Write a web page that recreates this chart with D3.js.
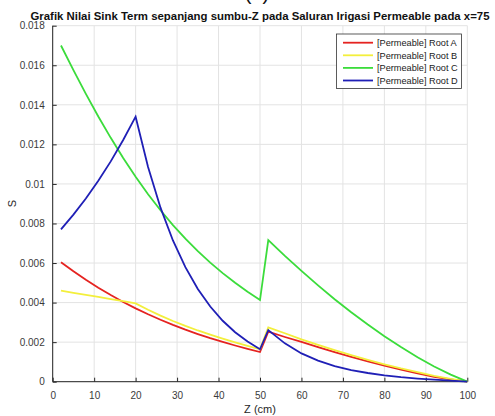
<!DOCTYPE html>
<html>
<head>
<meta charset="utf-8">
<script src="https://cdn.jsdelivr.net/npm/d3@7"></script>
<style>
  html, body { margin: 0; padding: 0; background: #fff; }
  svg { display: block; font-family: "Liberation Sans", Arial, Helvetica, sans-serif; }
</style>
</head>
<body>
<svg id="chart" width="495" height="416"></svg>
<script>
// Depth along the channel (cm)
const zValues = [2, 5, 8, 11, 14, 17, 20, 23, 26, 29, 32, 35, 38, 41, 44, 47, 50,
                 52, 56, 60, 64, 68, 72, 76, 80, 84, 88, 92, 96, 100];

// Sink term S for each root
const rootA = [0.00604, 0.00558, 0.00515, 0.00475, 0.00438, 0.00403, 0.00371, 0.00341, 0.00313,
               0.00287, 0.00263, 0.00241, 0.0022, 0.00201, 0.00183, 0.00166, 0.0015,
               0.00253, 0.00226, 0.00201, 0.00175, 0.0015, 0.00126, 0.00103, 0.00081,
               0.00061, 0.00042, 0.00025, 0.00012, 0];
const rootB = [0.0046, 0.00449, 0.00439, 0.00429, 0.00418, 0.00407, 0.00396, 0.00364, 0.00334,
               0.00307, 0.00282, 0.00259, 0.00238, 0.00218, 0.00199, 0.00181, 0.00164,
               0.00275, 0.00245, 0.00214, 0.00186, 0.0016, 0.00134, 0.0011, 0.00088,
               0.00067, 0.00048, 0.0003, 0.00014, 0];
const rootC = [0.0170, 0.01575, 0.01455, 0.01341, 0.01233, 0.01131, 0.01036, 0.00948, 0.00867,
               0.00792, 0.00723, 0.0066, 0.00602, 0.00549, 0.0050, 0.00455, 0.00413,
               0.00716, 0.00636, 0.0056, 0.00487, 0.00417, 0.00351, 0.00289, 0.0023,
               0.00175, 0.00124, 0.00077, 0.00036, 0];
const rootD = [0.0077, 0.00845, 0.00926, 0.01016, 0.01114, 0.01222, 0.0134, 0.01086, 0.0088,
               0.00714, 0.00579, 0.00469, 0.0038, 0.00308, 0.0025, 0.00203, 0.00164,
               0.00261, 0.00194, 0.00143, 0.00107, 0.00079, 0.00059, 0.00044, 0.00032,
               0.00023, 0.00016, 0.0001, 0.00005, 0];

const seriesNames = ["[Permeable] Root A", "[Permeable] Root B", "[Permeable] Root C", "[Permeable] Root D"];
const seriesColors = ["#e52320", "#f3ef3c", "#3bdc3b", "#1f1fb6"];
const seriesValues = [rootA, rootB, rootC, rootD];

const xTicks = [0, 10, 20, 30, 40, 50, 60, 70, 80, 90, 100];
const yTicks = [0, 0.002, 0.004, 0.006, 0.008, 0.01, 0.012, 0.014, 0.016, 0.018];

const titleText = "Grafik Nilai Sink Term sepanjang sumbu-Z pada Saluran Irigasi Permeable pada x=75";
const xLabel = "Z (cm)";
const yLabel = "S";

const svg = d3.select("#chart");
const plot = { left: 52.7, right: 467.3, top: 25.7, bottom: 381.7 };
const axisColor = "#262626";

const x = d3.scaleLinear().domain([0, 100]).range([plot.left, plot.right]);
const y = d3.scaleLinear().domain([0, 0.018]).range([plot.bottom, plot.top]);

// Grid
const grid = svg.append("g").attr("stroke", "#e3e3e3").attr("stroke-width", 1);
grid.selectAll("line.v").data(xTicks).join("line")
  .attr("x1", d => x(d)).attr("x2", d => x(d))
  .attr("y1", plot.top).attr("y2", plot.bottom);
grid.selectAll("line.h").data(yTicks).join("line")
  .attr("x1", plot.left).attr("x2", plot.right)
  .attr("y1", d => y(d)).attr("y2", d => y(d));

// Axes with inward ticks
const fmtY = d => d === 0 ? "0" : String(+d.toFixed(3));
const xAxis = d3.axisBottom(x).tickValues(xTicks).tickSize(-4).tickPadding(10).tickFormat(d => d);
const yAxis = d3.axisLeft(y).tickValues(yTicks).tickSize(-4).tickPadding(8).tickFormat(fmtY);

const gx = svg.append("g").attr("transform", `translate(0,${plot.bottom})`).call(xAxis);
const gy = svg.append("g").attr("transform", `translate(${plot.left},0)`).call(yAxis);
[gx, gy].forEach(g => {
  g.select(".domain").attr("stroke", axisColor).attr("stroke-width", 1);
  g.selectAll(".tick line").attr("stroke", axisColor);
  g.selectAll(".tick text").attr("fill", "#3a3a3a").attr("font-size", 10)
    .attr("font-family", "Liberation Sans, Arial, sans-serif");
});
gx.select(".domain").attr("d", `M${plot.left},0H${plot.right}`);
gy.select(".domain").attr("d", `M0,${plot.bottom}V${plot.top}`);

// Series lines
const line = d3.line()
  .x((d, i) => x(zValues[i]))
  .y(d => y(d));
svg.append("g").selectAll("path").data(seriesValues).join("path")
  .attr("d", d => line(d))
  .attr("fill", "none")
  .attr("stroke", (d, i) => seriesColors[i])
  .attr("stroke-width", 1.8)
  .attr("stroke-linejoin", "miter");

// Labels
svg.append("text").attr("x", 260).attr("y", 20).attr("text-anchor", "middle")
  .attr("font-size", 11.4).attr("font-weight", "bold").attr("fill", "#111")
  .text(titleText);
svg.append("text").attr("x", 257).attr("y", 0).attr("text-anchor", "middle")
  .attr("font-size", 20).attr("fill", "#111").text("(a)");
svg.append("text").attr("x", 260).attr("y", 413).attr("text-anchor", "middle")
  .attr("font-size", 11).attr("fill", "#262626").text(xLabel);
svg.append("text").attr("transform", `translate(16,${(plot.top + plot.bottom) / 2}) rotate(-90)`)
  .attr("text-anchor", "middle").attr("font-size", 11).attr("fill", "#262626").text(yLabel);

// Legend
const legend = svg.append("g");
legend.append("rect").attr("x", 336.5).attr("y", 34).attr("width", 125).attr("height", 54.5)
  .attr("fill", "#fff").attr("stroke", "#333").attr("stroke-width", 0.8);
const rows = legend.selectAll("g.row").data(seriesNames).join("g")
  .attr("transform", (d, i) => `translate(0,${42.7 + i * 12.6})`);
rows.append("line").attr("x1", 343).attr("x2", 373).attr("y1", 0).attr("y2", 0)
  .attr("stroke", (d, i) => seriesColors[i]).attr("stroke-width", 1.8);
rows.append("text").attr("x", 377).attr("y", 3.3).attr("font-size", 9.2)
  .attr("fill", "#1a1a1a").text(d => d);
</script>
</body>
</html>
